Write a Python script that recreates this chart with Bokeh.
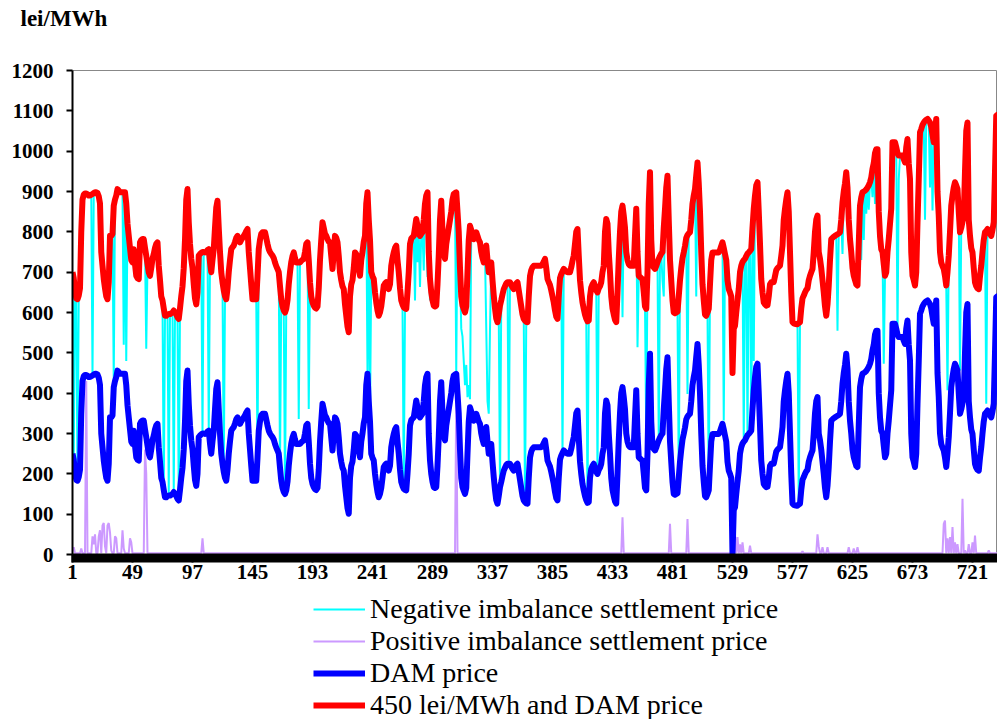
from bokeh.plotting import figure
from bokeh.layouts import column
from bokeh.models import Range1d, FixedTicker, Legend, LegendItem, Label
from bokeh.embed import file_html
from bokeh.resources import INLINE

# ---------------- data (hourly, 31 days x 24 h) ----------------
dam_days = [
    [250,235,205,185,183,192,210,350,430,442,445,445,443,440,440,442,444,446,448,448,446,438,420,300],
    [266,233,210,190,183,225,340,340,345,415,430,440,456,452,448,448,448,448,448,420,370,340,310,280],
    [274,307,270,241,235,233,324,330,332,332,310,291,270,250,241,260,283,295,310,320,324,266,230,190],
    [180,160,142,142,145,146,146,148,150,155,150,145,138,134,160,190,215,260,330,430,456,374,320,283],
    [260,220,185,170,200,291,295,298,300,300,299,300,305,307,275,250,280,307,360,410,427,360,300,250],
    [225,205,190,183,210,250,280,307,312,316,325,335,340,330,324,330,335,340,345,352,357,300,260,220],
    [183,183,183,183,240,307,330,345,349,349,349,335,320,307,300,295,291,285,274,265,258,250,215,183],
    [165,155,150,159,180,220,250,275,290,299,285,274,274,274,274,278,281,283,300,320,324,280,225,190],
    [175,167,162,160,165,210,280,330,374,360,345,340,332,326,324,290,258,300,340,335,324,290,250,230],
    [215,208,170,142,115,101,190,220,230,260,299,295,283,260,241,280,300,325,340,420,448,380,330,250],
    [240,233,200,175,155,142,150,165,190,217,222,225,215,208,220,266,285,299,310,316,280,250,210,180],
    [170,163,160,159,200,250,320,333,337,340,360,382,365,345,340,345,349,380,420,440,448,300,233,200],
    [180,167,165,167,220,291,380,427,350,295,283,320,340,360,380,400,430,444,446,448,400,349,260,190],
    [167,158,150,165,250,330,365,355,340,332,340,349,340,330,324,300,285,274,295,316,280,250,262,274],
    [230,192,160,135,126,145,167,180,195,208,215,222,225,225,225,218,212,208,215,222,225,205,185,165],
    [145,134,130,127,126,190,240,255,262,266,266,266,266,266,266,266,270,276,283,260,233,225,218,205],
    [190,175,155,140,134,190,235,245,252,258,255,252,250,250,250,262,278,291,320,350,357,291,230,200],
    [175,159,145,135,128,130,190,212,220,225,215,205,200,210,215,225,250,266,350,382,370,300,250,190],
    [160,145,132,126,200,283,350,400,415,390,360,300,280,270,266,266,266,266,340,407,300,241,238,235],
    [233,200,165,159,250,420,498,330,266,262,258,265,275,283,290,296,300,360,407,460,489,380,280,230],
    [180,150,148,150,152,190,230,260,285,299,315,335,342,346,349,380,420,440,456,490,522,470,400,300],
    [220,180,145,142,150,159,220,280,299,299,299,299,299,299,305,315,324,310,295,280,230,208,200,190],
    [0,110,117,150,180,208,250,266,275,280,283,290,296,299,303,307,360,407,440,465,473,400,320,233],
    [200,175,170,167,168,190,220,225,225,225,240,255,260,263,266,290,316,380,407,430,448,400,300,200],
    [126,123,122,121,121,124,126,160,185,192,200,206,210,230,241,250,258,300,350,380,390,300,283,260],
    [230,200,165,142,170,217,280,332,335,338,340,342,344,346,349,380,423,450,470,498,460,380,332,300],
    [260,241,230,220,217,320,415,435,448,450,452,455,460,465,473,485,506,520,545,555,555,400,340,307],
    [300,270,241,250,300,332,370,407,572,572,572,560,545,539,539,539,539,530,522,560,580,520,481,300],
    [241,230,217,250,374,480,597,605,615,621,625,628,630,626,621,610,590,572,600,630,450,390,300,274],
    [265,258,240,217,250,291,350,415,440,460,473,465,456,400,349,360,375,390,500,600,621,380,340,310],
    [299,260,225,215,210,208,240,266,300,330,349,352,357,350,345,340,355,374,500,638,640,600,520,450],
]

# hours where the negative imbalance price differs from "450 lei/MWh and DAM price"
neg_dips = {
    2: 240, 5: 190, 8: 740, 9: 800, 17: 443, 34: 430, 42: 520, 44: 480, 60: 510,
    74: 150, 78: 146, 82: 155, 86: 134, 105: 300, 110: 307, 122: 205, 149: 240,
    167: 215, 171: 150, 182: 336, 190: 361, 237: 448, 239: 340, 266: 163,
    275: 630, 277: 725, 279: 663, 282: 704, 285: 688, 287: 630,
    308: 448, 312: 560, 313: 540, 314: 480, 315: 420, 316: 470, 317: 390, 318: 420, 319: 385,
    332: 560, 333: 380, 334: 349, 335: 560, 343: 167, 350: 225, 363: 130, 393: 250,
    413: 128, 421: 200, 441: 588, 453: 514, 460: 291, 470: 283, 473: 680, 474: 640,
    486: 200, 493: 398, 500: 640, 510: 159, 522: 332, 538: 283, 541: 296, 544: 307,
    546: 480, 582: 124, 613: 555, 617: 745, 632: 730, 634: 780, 636: 845, 638: 855,
    641: 886, 643: 869, 650: 473, 661: 539, 662: 930, 683: 830, 687: 910, 689: 853,
    701: 407, 711: 456, 732: 374,
}

# positive imbalance price: low base level with spikes
pos_base = 3
pos_spikes = {
    1: 10, 2: 18, 8: 15, 12: 430, 17: 45, 18: 25, 19: 50, 22: 45, 23: 60, 25: 72,
    26: 78, 27: 20, 29: 72, 30: 78, 31: 55, 32: 10, 35: 45, 36: 40, 41: 60, 42: 15,
    47: 40, 48: 30, 59: 260, 60: 200, 105: 40, 308: 390, 441: 92, 479: 76, 493: 88,
    531: 52, 533: 43, 535: 25, 537: 30, 543: 22, 585: 8, 597: 50, 598: 20, 601: 18,
    605: 18, 622: 18, 626: 15, 629: 18, 698: 76, 699: 84, 701: 40, 703: 43, 705: 68,
    707: 30, 709: 26, 713: 138, 715: 10, 718: 26, 721: 30, 723: 47, 734: 10,
}

fixed_add = 450
x_ticks = [1, 49, 97, 145, 193, 241, 289, 337, 385, 433, 481, 529, 577, 625, 673, 721]
y_ticks = [0, 100, 200, 300, 400, 500, 600, 700, 800, 900, 1000, 1100, 1200]
series_names = ["Negative imbalance settlement price", "Positive imbalance settlement price",
                "DAM price", "450 lei/MWh and DAM price"]
unit_text = "lei/MWh"

dam = [v for day in dam_days for v in day]
hours = list(range(1, len(dam) + 1))
red = [v + fixed_add for v in dam]
neg = [neg_dips.get(h, r) for h, r in zip(hours, red)]
pos = [pos_spikes.get(h, pos_base) for h in hours]

FONT = "Liberation Serif"
W = 997
styles = [dict(line_color="#00FFFF", line_width=2),
          dict(line_color="#CC99FF", line_width=2),
          dict(line_color="#0000FF", line_width=6, line_join="round"),
          dict(line_color="#FF0000", line_width=6, line_join="round")]


def blank(height):
    f = figure(width=W, height=height, output_backend="svg", toolbar_location=None,
               x_axis_type=None, y_axis_type=None, x_range=Range1d(0, 1), y_range=Range1d(0, 1),
               min_border=0, frame_align=False)
    f.outline_line_color = None
    f.xgrid.visible = False
    f.ygrid.visible = False
    f.background_fill_color = "white"
    f.border_fill_color = "white"
    return f


# ---------------- top strip with unit ----------------
top = blank(56)
top.add_layout(Label(x=20, y=38, x_units="screen", y_units="screen", text=unit_text,
                     text_font=FONT, text_font_style="bold", text_font_size="23px",
                     text_baseline="middle", text_color="black"))

# ---------------- main chart ----------------
p = figure(width=W, height=534, output_backend="svg", toolbar_location=None,
           x_range=Range1d(1, 741), y_range=Range1d(0, 1200), frame_align=False,
           min_border_left=72, min_border_right=0, min_border_top=14, min_border_bottom=36)
p.background_fill_color = "white"
p.border_fill_color = "white"
p.outline_line_color = "#888888"
p.outline_line_width = 1
p.xgrid.visible = False
p.ygrid.visible = False

p.line(hours, neg, **styles[0])
p.line(hours, pos, **styles[1])
p.line(hours, dam, **styles[2])
p.line(hours, red, **styles[3])

xa = p.xaxis[0]
xa.ticker = FixedTicker(ticks=x_ticks, minor_ticks=hours)
xa.axis_line_color = "black"
xa.axis_line_width = 2
xa.major_tick_in = 0
xa.major_tick_out = 8
xa.major_tick_line_width = 2
xa.minor_tick_in = 0
xa.minor_tick_out = 8
xa.minor_tick_line_width = 2
xa.minor_tick_line_color = "black"
xa.major_label_standoff = 2
xa.major_label_text_font = FONT
xa.major_label_text_font_style = "bold"
xa.major_label_text_font_size = "21px"
xa.major_label_text_color = "black"

ya = p.yaxis[0]
ya.ticker = FixedTicker(ticks=y_ticks, minor_ticks=[])
ya.axis_line_color = "black"
ya.axis_line_width = 2
ya.major_tick_in = 0
ya.major_tick_out = 6
ya.major_tick_line_width = 2
ya.minor_tick_out = 0
ya.minor_tick_in = 0
ya.major_label_standoff = 13
ya.major_label_text_font = FONT
ya.major_label_text_font_style = "bold"
ya.major_label_text_font_size = "21px"
ya.major_label_text_color = "black"

# ---------------- legend strip ----------------
leg = blank(129)
items = []
for name, st in zip(series_names, styles):
    r = leg.line([-10, -9], [-10, -10], **st)   # off-screen proxy, only for the legend swatch
    items.append(LegendItem(label=name, renderers=[r]))
legend = Legend(items=items, location=(313, -2))
legend.glyph_width = 52
legend.glyph_height = 30
legend.label_height = 30
legend.spacing = 0
legend.padding = 0
legend.margin = 0
legend.label_standoff = 5
legend.label_text_font = FONT
legend.label_text_font_size = "28px"
legend.label_text_color = "black"
legend.border_line_alpha = 0
legend.background_fill_alpha = 0
leg.add_layout(legend, "center")

layout = column(top, p, leg, spacing=0)
open("out.html", "w").write(file_html(layout, INLINE))
